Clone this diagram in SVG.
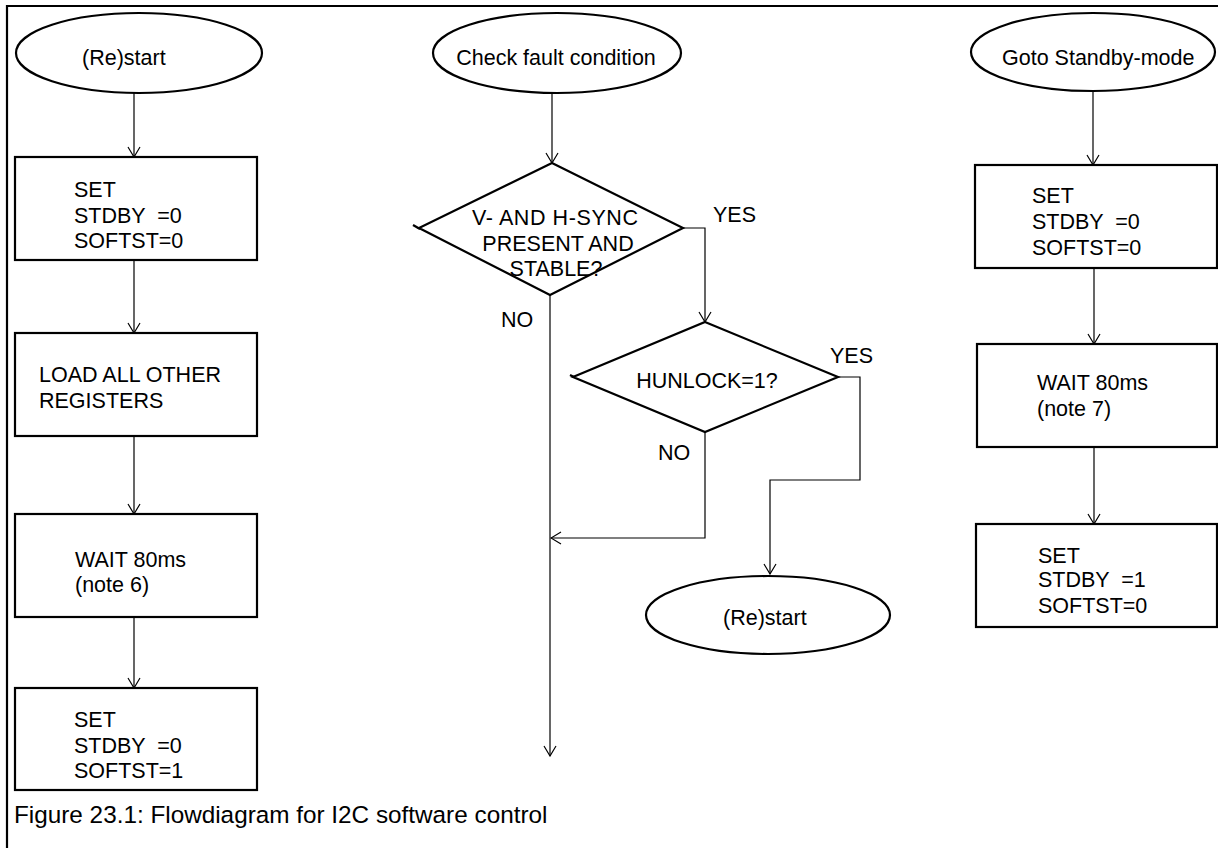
<svg xmlns="http://www.w3.org/2000/svg" width="1218" height="848" viewBox="0 0 1218 848">
  <style>
    .shape { fill: #fff; stroke: #000; stroke-width: 2.2; }
    .edge { fill: none; stroke: #000; stroke-width: 1.2; }
    .frame { fill: none; stroke: #000; stroke-width: 2.2; }
    text { font-family: "Liberation Sans", Arial, sans-serif; font-size: 21.5px; fill: #000; }
    .mid { text-anchor: middle; }
    .caption { font-size: 24.3px; }
  </style>
  <defs>
    <marker id="arrow" viewBox="-11 -7 12 14" refX="0" refY="0" markerWidth="12" markerHeight="14" markerUnits="userSpaceOnUse" orient="auto">
      <path d="M-10,-6 L0,0 L-10,6" fill="none" stroke="#000" stroke-width="1.2"/>
    </marker>
  </defs>

  <rect width="1218" height="848" fill="#fff"/>

  <!-- page frame (top and left rule) -->
  <path class="frame" d="M7,848 V6 H1218"/>

  <!-- connectors -->
  <g id="connectors">
    <!-- left column -->
    <line class="edge" x1="134" y1="93" x2="134" y2="157" marker-end="url(#arrow)"/>
    <line class="edge" x1="134" y1="260" x2="134" y2="333" marker-end="url(#arrow)"/>
    <line class="edge" x1="134" y1="436" x2="134" y2="514" marker-end="url(#arrow)"/>
    <line class="edge" x1="134" y1="617" x2="134" y2="688" marker-end="url(#arrow)"/>
    <!-- middle column -->
    <line class="edge" x1="552" y1="93" x2="552" y2="163" marker-end="url(#arrow)"/>
    <polyline class="edge" points="683,228 705,228 705,322" marker-end="url(#arrow)"/>
    <line class="edge" x1="550" y1="295" x2="550" y2="756" marker-end="url(#arrow)"/>
    <polyline class="edge" points="705,432 705,538 551,538" marker-end="url(#arrow)"/>
    <polyline class="edge" points="838,377 860,377 860,480 770,480 770,574" marker-end="url(#arrow)"/>
    <!-- right column -->
    <line class="edge" x1="1093" y1="90" x2="1093" y2="165" marker-end="url(#arrow)"/>
    <line class="edge" x1="1094" y1="268" x2="1094" y2="344" marker-end="url(#arrow)"/>
    <line class="edge" x1="1094" y1="447" x2="1094" y2="524" marker-end="url(#arrow)"/>
  </g>

  <!-- left column: restart sequence -->
  <g id="restart-start">
    <ellipse class="shape" cx="139" cy="53" rx="123" ry="40"/>
    <text x="82" y="65">(Re)start</text>
  </g>
  <g id="set-standby-0-softst-0">
    <rect class="shape" x="15" y="157" width="242" height="103"/>
    <text x="74" y="197">SET</text>
    <text x="74" y="223" xml:space="preserve">STDBY  =0</text>
    <text x="74" y="248">SOFTST=0</text>
  </g>
  <g id="load-registers">
    <rect class="shape" x="15" y="333" width="242" height="103"/>
    <text x="39" y="382">LOAD ALL OTHER</text>
    <text x="39" y="408">REGISTERS</text>
  </g>
  <g id="wait-note-6">
    <rect class="shape" x="15" y="514" width="242" height="103"/>
    <text x="75" y="567">WAIT 80ms</text>
    <text x="75" y="592">(note 6)</text>
  </g>
  <g id="set-standby-0-softst-1">
    <rect class="shape" x="15" y="688" width="242" height="102"/>
    <text x="74" y="727">SET</text>
    <text x="74" y="753" xml:space="preserve">STDBY  =0</text>
    <text x="74" y="778">SOFTST=1</text>
  </g>

  <!-- middle column: fault check -->
  <g id="check-fault">
    <ellipse class="shape" cx="557" cy="53" rx="124" ry="40"/>
    <text class="mid" x="556" y="65">Check fault condition</text>
  </g>
  <g id="sync-decision">
    <polygon class="shape" points="552,163 683,228 550,295 419,228"/>
    <line class="shape" x1="413" y1="225" x2="420" y2="229"/>
    <text class="mid" x="555" y="225" textLength="166" lengthAdjust="spacing">V- AND H-SYNC</text>
    <text class="mid" x="558" y="251">PRESENT AND</text>
    <text class="mid" x="556" y="276">STABLE?</text>
  </g>
  <g id="hunlock-decision">
    <polygon class="shape" points="705,322 838,377 705,432 573,377"/>
    <line class="shape" x1="570" y1="375" x2="574" y2="377"/>
    <text class="mid" x="707" y="388">HUNLOCK=1?</text>
  </g>
  <g id="restart-end">
    <ellipse class="shape" cx="768" cy="615" rx="122" ry="39"/>
    <text x="723" y="625">(Re)start</text>
  </g>
  <g id="branch-labels">
    <text x="713" y="222">YES</text>
    <text x="501" y="327">NO</text>
    <text x="830" y="363">YES</text>
    <text x="658" y="460">NO</text>
  </g>

  <!-- right column: standby sequence -->
  <g id="goto-standby">
    <ellipse class="shape" cx="1093" cy="52" rx="122" ry="39"/>
    <text x="1002" y="65">Goto Standby-mode</text>
  </g>
  <g id="standby-set-0">
    <rect class="shape" x="975" y="165" width="242" height="103"/>
    <text x="1032" y="203">SET</text>
    <text x="1032" y="229" xml:space="preserve">STDBY  =0</text>
    <text x="1032" y="255">SOFTST=0</text>
  </g>
  <g id="wait-note-7">
    <rect class="shape" x="977" y="344" width="240" height="103"/>
    <text x="1037" y="390">WAIT 80ms</text>
    <text x="1037" y="416">(note 7)</text>
  </g>
  <g id="standby-set-1">
    <rect class="shape" x="976" y="524" width="241" height="103"/>
    <text x="1038" y="563">SET</text>
    <text x="1038" y="587" xml:space="preserve">STDBY  =1</text>
    <text x="1038" y="613">SOFTST=0</text>
  </g>

  <!-- caption -->
  <text id="caption" class="caption" x="14" y="823">Figure 23.1: Flowdiagram for I2C software control</text>
</svg>
